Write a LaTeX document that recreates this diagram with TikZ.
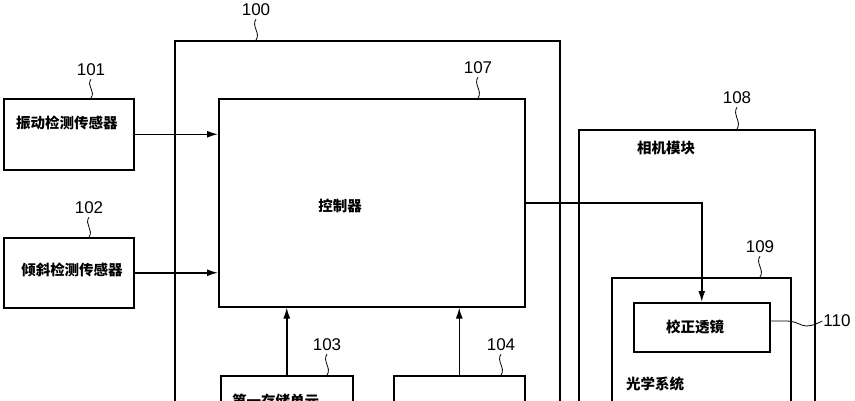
\documentclass[tikz,border=0pt]{standalone}
\usepackage{fontspec}
\setmainfont{Liberation Sans}
\newfontfamily\cjk{Noto Sans CJK SC}
\usetikzlibrary{arrows.meta}
\begin{document}
\begin{tikzpicture}[x=1pt,y=-1pt,
  every node/.style={inner sep=0pt},
  box/.style={draw,line width=1.5pt,anchor=north west},
  refno/.style={font=\fontsize{17}{17}\selectfont},
  txt/.style={font=\cjk\bfseries\fontsize{14.5}{14.5}\selectfont},
  arr/.style={line width=1.5pt,-{Latex[length=11pt,width=7pt]}},
  wave/.style={line width=0.8pt}]
\clip (0,0) rectangle (855,400);
% boxes
\node[box,minimum width=385,minimum height=420] (b100) at (174,40) {};
\node[box,minimum width=130,minimum height=71] (b101) at (3,98) {};
\node[box,minimum width=130,minimum height=70] (b102) at (3,237) {};
\node[box,minimum width=306,minimum height=208] (b107) at (218,98) {};
\node[box,minimum width=132,minimum height=60] (b103) at (220,375) {};
\node[box,minimum width=131,minimum height=60] (b104) at (393,375) {};
\node[box,minimum width=236,minimum height=300] (b108) at (578,129) {};
\node[box,minimum width=179,minimum height=200] (b109) at (611,277) {};
\node[box,minimum width=136,minimum height=49] (b110) at (633,302) {};
% texts
\node[txt] (t101) at (67,123) {振动检测传感器};
\node[txt] (t102) at (72,270) {倾斜检测传感器};
\node[txt] (t107) at (340,206) {控制器};
\node[txt] (t108) at (666,148) {相机模块};
\node[txt] (t110) at (695,327) {校正透镜};
\node[txt] (t109) at (655,384) {光学系统};
\node[txt,anchor=west] (t103) at (232,401) {第一存储单元};
% reference numbers
\node[refno] (l100) at (256,10) {100};
\node[refno] (l101) at (91,70) {101};
\node[refno] (l102) at (89,208) {102};
\node[refno] (l107) at (478,68) {107};
\node[refno] (l103) at (327,345) {103};
\node[refno] (l104) at (501,345) {104};
\node[refno] (l108) at (737,98) {108};
\node[refno] (l109) at (760,247) {109};
\node[refno] (l110) at (837,321) {110};
% leaders
\draw[wave] ([yshift=-3pt]l100.south) .. controls +(-5,7) and +(5,-7) .. (l100.south |- b100.north);
\draw[wave] ([yshift=-3pt]l101.south) .. controls +(-5,7) and +(5,-7) .. (l101.south |- b101.north);
\draw[wave] ([yshift=-3pt]l102.south) .. controls +(-5,7) and +(5,-7) .. (l102.south |- b102.north);
\draw[wave] ([yshift=-3pt]l107.south) .. controls +(-5,7) and +(5,-7) .. (l107.south |- b107.north);
\draw[wave] ([yshift=-3pt]l103.south) .. controls +(-5,7) and +(5,-7) .. (l103.south |- b103.north);
\draw[wave] ([yshift=-3pt]l104.south) .. controls +(-5,7) and +(5,-7) .. (l104.south |- b104.north);
\draw[wave] ([yshift=-3pt]l108.south) .. controls +(-5,7) and +(5,-7) .. (l108.south |- b108.north);
\draw[wave] ([yshift=-3pt]l109.south) .. controls +(-5,7) and +(5,-7) .. (l109.south |- b109.north);
\draw[wave] (b110.east |- l110.west) -- ++(16,0) .. controls +(10,0) and +(-6,0) .. ++(20,5) .. controls +(6,0) and +(-4,2) .. ([xshift=-1pt]l110.west);
% connections
\draw[arr] (b101.east) -- (b101.east -| b107.west);
\draw[arr] (b102.east) -- (b102.east -| b107.west);
\draw[arr] (b103.north) -- (b103.north |- b107.south);
\draw[arr] (b104.north) -- (b104.north |- b107.south);
\draw[arr] (b107.east) -| (b110.north);
\end{tikzpicture}
\end{document}
